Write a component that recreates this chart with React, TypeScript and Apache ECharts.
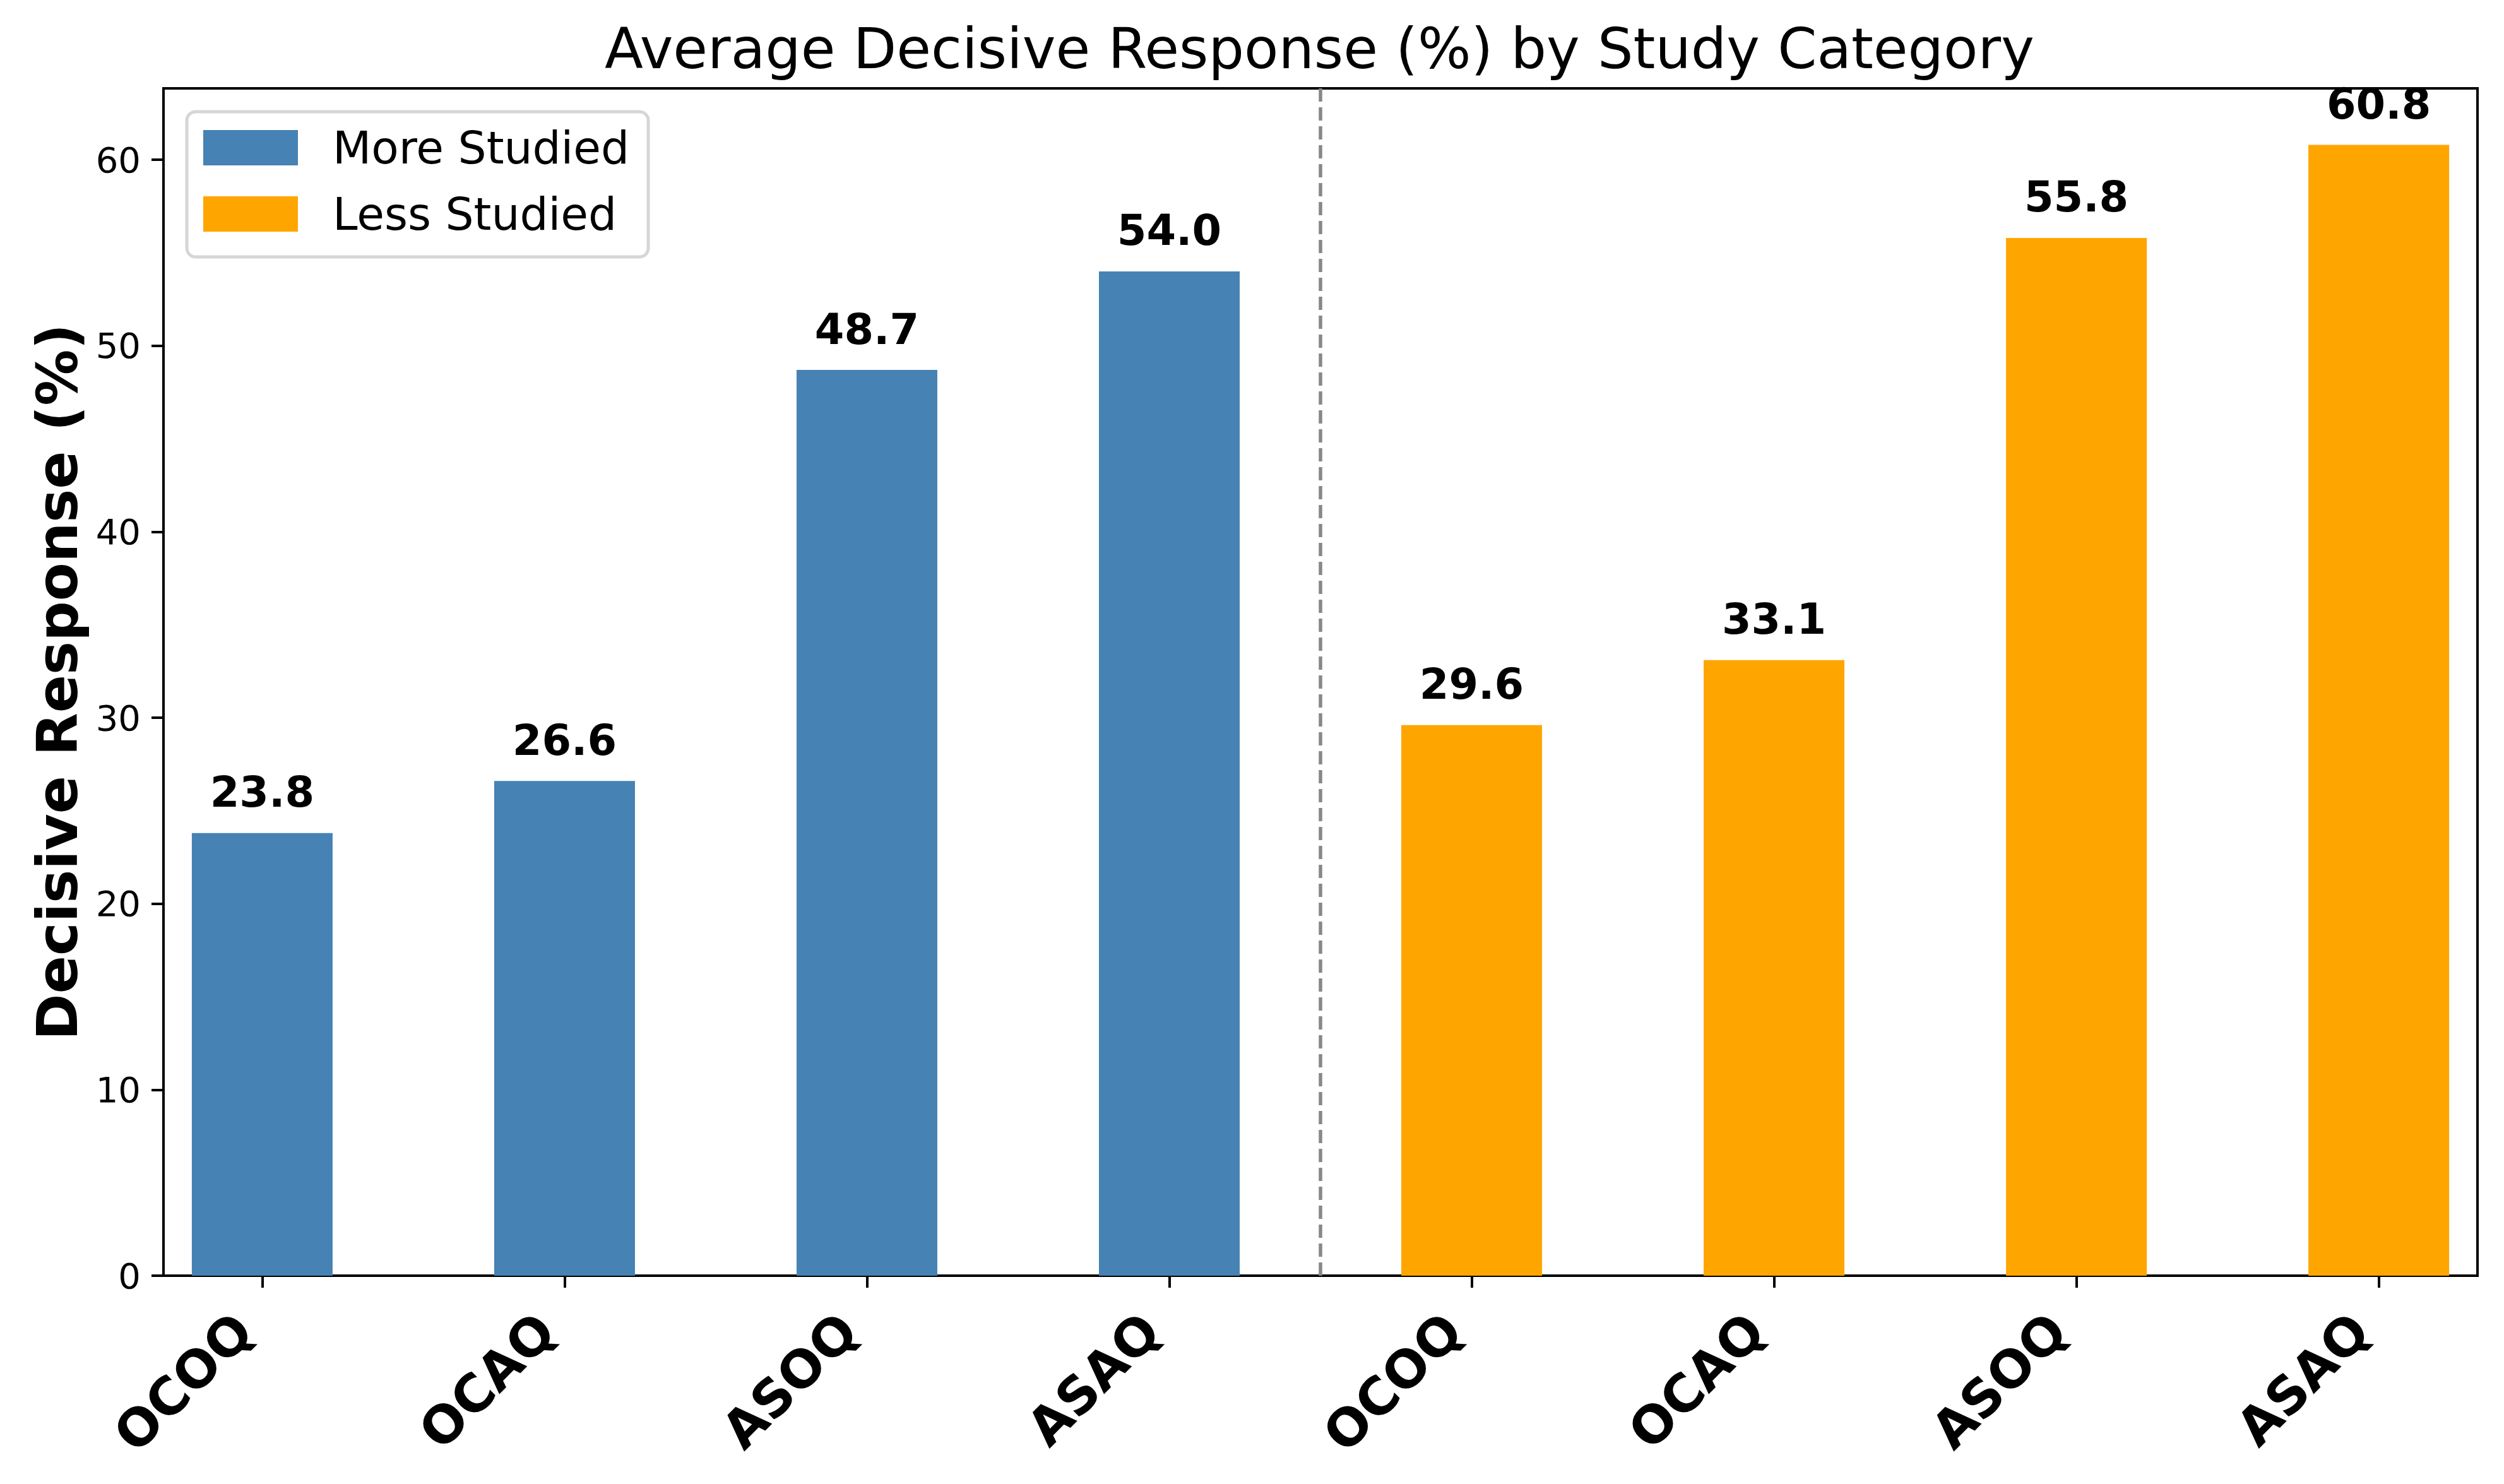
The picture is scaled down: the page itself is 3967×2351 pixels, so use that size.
import React, { useEffect, useRef } from "react";
import * as echarts from "echarts";

const categories = ["OCOQ", "OCAQ", "ASOQ", "ASAQ", "OCOQ", "OCAQ", "ASOQ", "ASAQ"];
const moreStudied = [23.8, 26.6, 48.7, 54.0];
const lessStudied = [29.6, 33.1, 55.8, 60.8];
const yTicks = [0, 10, 20, 30, 40, 50, 60];
const seriesNames = ["More Studied", "Less Studied"];
const dividerX = 3.5;

const FONT = "DejaVu Sans";

export default function App() {
  const ref = useRef<HTMLDivElement>(null);

  useEffect(() => {
    if (!ref.current) return;
    const chart = echarts.init(ref.current, undefined, { renderer: "svg" });

    const allVals = moreStudied.concat(lessStudied);
    const yMax = Math.max(...allVals) * 1.05;
    const xPad = 0.3265;
    const tickPositions = categories.map((_, i) => i);

    const moreData = moreStudied.map((v, i) => [i, v]);
    const lessData = lessStudied.map((v, i) => [i + moreStudied.length, v]);

    const labelCfg = {
      show: true,
      position: "top",
      distance: 31,
      formatter: (p: any) => Number(p.value[1]).toFixed(1),
      fontFamily: FONT,
      fontWeight: "bold",
      fontSize: 67,
      color: "#000",
    };

    chart.setOption({
      animation: false,
      backgroundColor: "#fff",
      title: {
        text: "Average Decisive Response (%) by Study Category",
        left: 958,
        top: 32,
        padding: 0,
        textStyle: { fontFamily: FONT, fontSize: 89, fontWeight: "normal", color: "#000" },
      },
      legend: {
        orient: "vertical",
        left: 296,
        top: 177,
        padding: [20, 30, 31, 26],
        itemWidth: 150,
        itemHeight: 56,
        itemGap: 31,
        icon: "rect",
        borderColor: "#d6d6d6",
        borderWidth: 5,
        borderRadius: 14,
        backgroundColor: "#ffffff",
        itemStyle: { borderWidth: 0 },
        textStyle: {
          fontFamily: FONT,
          fontSize: 71,
          lineHeight: 74,
          color: "#000",
          padding: [0, 0, 0, 50],
        },
        data: seriesNames,
      },
      grid: {
        left: 259,
        top: 140,
        width: 3666,
        height: 1881,
        show: true,
        borderColor: "#000",
        borderWidth: 4,
        backgroundColor: "transparent",
      },
      xAxis: {
        type: "value",
        min: -xPad,
        max: categories.length - 1 + xPad,
        splitLine: { show: false },
        axisLine: { show: true, onZero: false, lineStyle: { color: "#000", width: 4 } },
        axisTick: {
          show: true,
          customValues: tickPositions,
          length: 19,
          lineStyle: { color: "#000", width: 4 },
        },
        axisLabel: {
          customValues: tickPositions,
          formatter: (v: number) => categories[Math.round(v)] ?? "",
          rotate: 45,
          margin: 44,
          padding: [0, 42, 0, 0],
          fontFamily: FONT,
          fontWeight: "bold",
          fontSize: 82,
          color: "#000",
        },
      },
      yAxis: {
        type: "value",
        min: 0,
        max: yMax,
        interval: 10,
        name: "Decisive Response (%)",
        nameLocation: "middle",
        nameGap: 124,
        nameTextStyle: { fontFamily: FONT, fontWeight: "bold", fontSize: 89, color: "#000" },
        splitLine: { show: false },
        axisLine: { show: true, onZero: false, lineStyle: { color: "#000", width: 4 } },
        axisTick: {
          show: true,
          customValues: yTicks,
          length: 19,
          lineStyle: { color: "#000", width: 4 },
        },
        axisLabel: {
          customValues: yTicks,
          margin: 36,
          fontFamily: FONT,
          fontSize: 56,
          color: "#000",
        },
      },
      series: [
        {
          name: seriesNames[0],
          type: "bar",
          data: moreData,
          barWidth: 223,
          barGap: "-100%",
          itemStyle: { color: "#4682B4" },
          label: labelCfg,
          markLine: {
            silent: true,
            symbol: "none",
            label: { show: false },
            lineStyle: { color: "#888888", width: 5.5, type: [21, 9] },
            data: [{ xAxis: dividerX }],
          },
        },
        {
          name: seriesNames[1],
          type: "bar",
          data: lessData,
          barWidth: 223,
          barGap: "-100%",
          itemStyle: { color: "#FFA500" },
          label: labelCfg,
        },
      ],
    });

    return () => chart.dispose();
  }, []);

  return (
    <div
      ref={ref}
      style={{ position: "fixed", left: 0, top: 0, width: 3967, height: 2351, background: "#fff" }}
    />
  );
}
